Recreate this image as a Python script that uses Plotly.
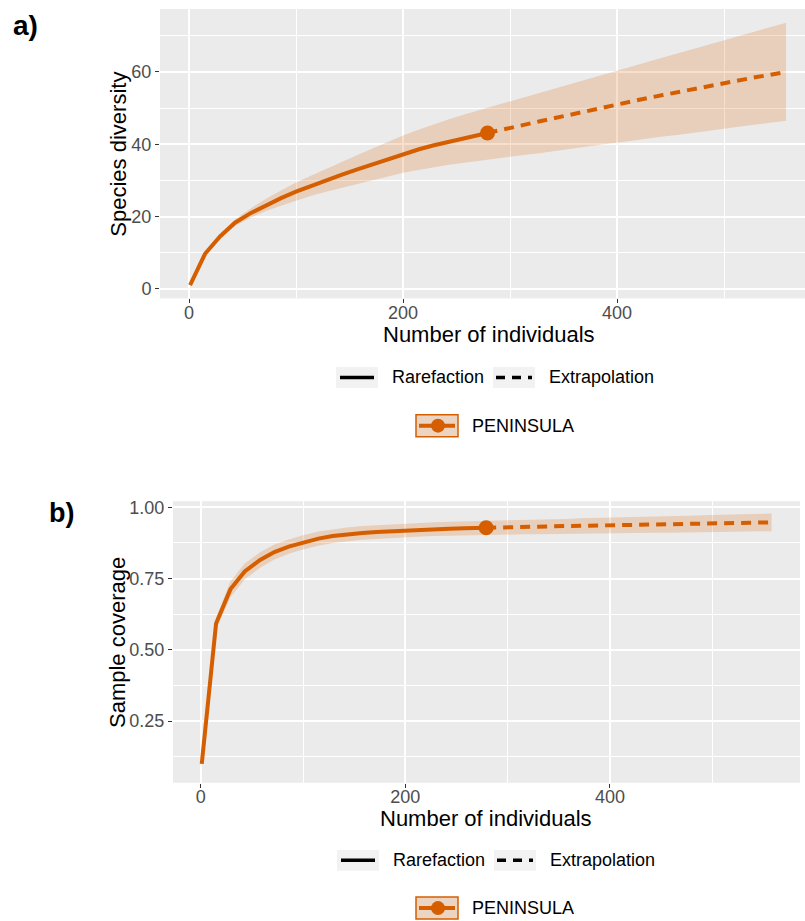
import plotly.graph_objects as go

W, H = 805, 921
ORANGE = "#D55E00"
RIBBON = "rgba(213,94,0,0.2)"
FONT = "Liberation Sans, Arial, Helvetica, sans-serif"

# ---------------- data ----------------
# a) species diversity (rarefaction / extrapolation)
rare_n = [1, 15, 29, 43, 58, 72, 86, 100, 115, 129, 143, 158, 172, 186, 200, 215, 229, 243, 258, 272, 279]
rare_S = [1.0, 9.7, 14.5, 18.3, 21.0, 23.2, 25.1, 26.9, 28.6, 30.1, 31.6, 33.1, 34.5, 35.9, 37.3, 38.6, 39.7, 40.7, 41.7, 42.6, 43.1]
rare_S_up = [1.0, 9.9, 15.0, 19.2, 22.3, 24.9, 27.2, 29.4, 31.4, 33.3, 35.2, 37.1, 38.9, 40.7, 42.4, 44.1, 45.6, 46.9, 48.3, 49.5, 50.1]
rare_S_lo = [1.0, 9.5, 14.0, 17.4, 19.7, 21.5, 23.0, 24.4, 25.8, 26.9, 28.0, 29.1, 30.1, 31.1, 32.1, 32.9, 33.6, 34.3, 35.0, 35.4, 35.7]

ext_n = [279, 286, 300, 315, 329, 343, 358, 372, 386, 400, 415, 429, 443, 458, 472, 486, 500, 515, 529, 543, 558]
ext_S = [43.1, 43.6, 44.4, 45.4, 46.4, 47.3, 48.3, 49.2, 50.1, 51.0, 51.9, 52.8, 53.6, 54.5, 55.3, 56.1, 56.9, 57.7, 58.5, 59.2, 60.0]
ext_S_up = [50.1, 50.7, 51.9, 53.1, 54.3, 55.5, 56.8, 58.0, 59.2, 60.3, 61.6, 62.8, 64.0, 65.2, 66.4, 67.6, 68.8, 70.1, 71.2, 72.4, 73.6]
ext_S_lo = [35.7, 36.0, 36.5, 37.1, 37.6, 38.2, 38.8, 39.3, 39.9, 40.4, 41.0, 41.5, 42.1, 42.6, 43.2, 43.7, 44.3, 44.9, 45.4, 46.0, 46.5]

# b) sample coverage
rare_C = [0.100, 0.592, 0.712, 0.775, 0.815, 0.843, 0.862, 0.877, 0.890, 0.899, 0.905, 0.910, 0.913, 0.916, 0.919, 0.921, 0.923, 0.925, 0.926, 0.928, 0.928]
rare_C_up = [0.100, 0.612, 0.740, 0.803, 0.842, 0.869, 0.887, 0.902, 0.915, 0.923, 0.929, 0.934, 0.937, 0.940, 0.943, 0.945, 0.947, 0.949, 0.950, 0.952, 0.952]
rare_C_lo = [0.100, 0.572, 0.684, 0.747, 0.788, 0.817, 0.837, 0.852, 0.865, 0.875, 0.881, 0.886, 0.889, 0.892, 0.895, 0.897, 0.899, 0.901, 0.902, 0.904, 0.904]

ext_C = [0.928, 0.929, 0.930, 0.931, 0.932, 0.933, 0.934, 0.935, 0.936, 0.937, 0.938, 0.9385, 0.939, 0.940, 0.941, 0.942, 0.943, 0.944, 0.945, 0.946, 0.947]
ext_C_up = [0.952, 0.953, 0.954, 0.955, 0.957, 0.958, 0.959, 0.961, 0.962, 0.963, 0.965, 0.966, 0.967, 0.969, 0.970, 0.971, 0.973, 0.974, 0.975, 0.977, 0.978]
ext_C_lo = [0.904, 0.904, 0.904, 0.905, 0.905, 0.906, 0.907, 0.907, 0.908, 0.909, 0.909, 0.910, 0.911, 0.911, 0.912, 0.913, 0.913, 0.914, 0.915, 0.915, 0.916]

x_ticks = [0, 200, 400]
S_ticks = [0, 20, 40, 60]
C_ticks = [0.25, 0.50, 0.75, 1.00]
C_tick_labels = ["0.25", "0.50", "0.75", "1.00"]
site = "PENINSULA"

# ---------------- figure ----------------
fig = go.Figure()


def add_panel(xa, ya, rn, ry, ru, rl, en, ey, eu, el):
    xs = rn + en[1:]
    up = ru + eu[1:]
    lo = rl + el[1:]
    fig.add_trace(go.Scatter(x=xs + xs[::-1], y=up + lo[::-1], fill="toself",
                             fillcolor=RIBBON, line=dict(width=0), mode="lines",
                             hoverinfo="skip", showlegend=False, xaxis=xa, yaxis=ya))
    fig.add_trace(go.Scatter(x=rn, y=ry, mode="lines", line=dict(color=ORANGE, width=4),
                             showlegend=False, xaxis=xa, yaxis=ya))
    fig.add_trace(go.Scatter(x=en, y=ey, mode="lines",
                             line=dict(color=ORANGE, width=4, dash="10px,7px"),
                             showlegend=False, xaxis=xa, yaxis=ya))
    fig.add_trace(go.Scatter(x=[rn[-1]], y=[ry[-1]], mode="markers",
                             marker=dict(color=ORANGE, size=15), showlegend=False,
                             xaxis=xa, yaxis=ya))


add_panel("x", "y", rare_n, rare_S, rare_S_up, rare_S_lo, ext_n, ext_S, ext_S_up, ext_S_lo)
add_panel("x2", "y2", rare_n, rare_C, rare_C_up, rare_C_lo, ext_n, ext_C, ext_C_up, ext_C_lo)

axis_common = dict(
    showgrid=True, gridcolor="white", gridwidth=1.6,
    zeroline=False, showline=False,
    ticks="outside", ticklen=4, tickwidth=1.1, tickcolor="#333333",
    tickfont=dict(family=FONT, size=18, color="#4D4D4D"),
)


def py(y):
    return 1 - y / H


def pxx(x):
    return x / W


fig.update_layout(
    width=W, height=H, autosize=False,
    margin=dict(l=0, r=0, t=0, b=0),
    paper_bgcolor="white", plot_bgcolor="#EBEBEB",
    showlegend=False,
    xaxis=dict(domain=[160 / W, 1.0], range=[-27.1, 575.7], anchor="y",
               tickmode="array", tickvals=x_ticks, ticklabelstandoff=-6,
               minor=dict(tickmode="array", tickvals=[100, 300, 500], showgrid=True,
                          gridcolor="white", gridwidth=0.8, ticks=""),
               **axis_common),
    yaxis=dict(domain=[py(296), py(5)], range=[-2.64, 77.4], anchor="x",
               tickmode="array", tickvals=S_ticks,
               minor=dict(tickmode="array", tickvals=[10, 30, 50, 70], showgrid=True,
                          gridcolor="white", gridwidth=0.8, ticks=""),
               **axis_common),
    xaxis2=dict(domain=[173 / W, 800 / W], range=[-27.1, 585.8], anchor="y2",
                tickmode="array", tickvals=x_ticks, ticklabelstandoff=-6,
                minor=dict(tickmode="array", tickvals=[100, 300, 500], showgrid=True,
                           gridcolor="white", gridwidth=0.8, ticks=""),
                **axis_common),
    yaxis2=dict(domain=[py(783), py(500)], range=[0.0338, 1.0209], anchor="x2",
                tickmode="array", tickvals=C_ticks, ticktext=C_tick_labels,
                minor=dict(tickmode="array", tickvals=[0.125, 0.375, 0.625, 0.875], showgrid=True,
                           gridcolor="white", gridwidth=0.8, ticks=""),
                **axis_common),
)

annotations = []
shapes = []


def text(x, y, s, size, bold=False, angle=0, xanchor="center"):
    annotations.append(dict(
        x=pxx(x), y=py(y), xref="paper", yref="paper", text=("<b>%s</b>" % s) if bold else s,
        showarrow=False, xanchor=xanchor, yanchor="middle", textangle=angle,
        font=dict(family=FONT, size=size, color="black")))


# panel labels
text(25.5, 22, "a)", 28, bold=True)
text(61, 512, "b)", 27, bold=True)

# axis titles
text(118.5, 151, "Species diversity", 22, angle=-90)
text(488.5, 332, "Number of individuals", 22)
text(117.5, 642, "Sample coverage", 22, angle=-90)
text(486, 819, "Number of individuals", 22)


def legend(y1, y2, off):
    # line-type row
    h = 10.5
    shapes.append(dict(type="rect", xref="paper", yref="paper", x0=pxx(336 + off), x1=pxx(378 + off),
                       y0=py(y1 + h), y1=py(y1 - h), fillcolor="#F2F2F2", line=dict(width=0)))
    shapes.append(dict(type="line", xref="paper", yref="paper", x0=pxx(340 + off), x1=pxx(374 + off),
                       y0=py(y1), y1=py(y1), line=dict(color="black", width=3.5)))
    text(390 + off, y1, "Rarefaction", 18, xanchor="left")
    shapes.append(dict(type="rect", xref="paper", yref="paper", x0=pxx(493 + off), x1=pxx(535 + off),
                       y0=py(y1 + h), y1=py(y1 - h), fillcolor="#F2F2F2", line=dict(width=0)))
    shapes.append(dict(type="line", xref="paper", yref="paper", x0=pxx(496 + off), x1=pxx(532 + off),
                       y0=py(y1), y1=py(y1), line=dict(color="black", width=3.5, dash="9px,7px")))
    text(547 + off, y1, "Extrapolation", 18, xanchor="left")
    # site row
    shapes.append(dict(type="rect", xref="paper", yref="paper", x0=pxx(416), x1=pxx(458),
                       y0=py(y2 + 11), y1=py(y2 - 11), fillcolor="rgb(236,212,194)",
                       line=dict(color=ORANGE, width=1.5)))
    shapes.append(dict(type="line", xref="paper", yref="paper", x0=pxx(419), x1=pxx(455),
                       y0=py(y2), y1=py(y2), line=dict(color=ORANGE, width=4)))
    r = 7
    shapes.append(dict(type="circle", xref="paper", yref="paper", x0=pxx(438 - r), x1=pxx(438 + r),
                       y0=py(y2 + r), y1=py(y2 - r), fillcolor=ORANGE, line=dict(width=0)))
    text(470, y2, site, 18, xanchor="left")


legend(375.5, 424, 0)
legend(861, 909, 1)

fig.update_layout(annotations=annotations, shapes=shapes)

fig.write_html("out.html", config={"displayModeBar": False},
               post_script="document.body.style.margin='0';document.body.style.overflow='hidden';")
